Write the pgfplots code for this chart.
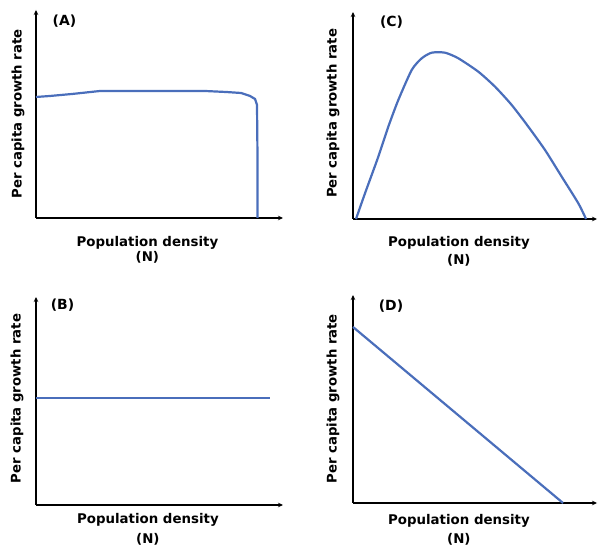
\documentclass[border=0pt]{standalone}
\usepackage{pgfplots}
\pgfplotsset{compat=1.18}
\usepackage{fontspec}
\setmainfont{DejaVu Sans}
\usetikzlibrary{arrows.meta}
\definecolor{curve}{RGB}{74,110,187}
\begin{document}
\begin{tikzpicture}[x=1bp,y=1bp]
\path[use as bounding box] (0,0) rectangle (598,547);
\pgfplotsset{
  panel/.style={
    scale only axis, anchor=south west,
    axis x line=bottom, axis y line=left,
    axis line style={line width=1.4bp, -{Stealth[length=5bp,width=4.5bp]}},
    xtick=\empty, ytick=\empty,
    xmin=0, ymin=0, clip=false,
    xlabel={Population density\\(N)},
    ylabel={Per capita growth rate},
    xlabel style={align=center, anchor=north, inner sep=0pt},
    ylabel style={anchor=center, inner sep=0pt, font=\bfseries\fontsize{13.3}{15}\selectfont},
  },
  crv/.style={color=curve, line width=2.2bp, no marks},
}
% Panel A
\begin{axis}[panel, at={(36,329)}, width=247bp, height=208bp, xmax=247, ymax=208,
  xlabel style={at={(axis description cs:0.451,0)}, yshift=-18bp, font=\bfseries\fontsize{13.4}{15}\selectfont},
  ylabel style={at={(axis description cs:0,0.50)}, yshift=18bp}]
\addplot[crv] coordinates {(0,121) (14,122) (36,124) (64,127) (169,127) (190,126) (205,125) (214,122) (219,119) (221,113) (221.5,60) (221.5,0)};
\node[font=\bfseries\fontsize{14}{15}\selectfont] at (axis cs:28.5,196.5) {(A)};
\end{axis}
% Panel B
\begin{axis}[panel, at={(36,42)}, width=247bp, height=208bp, xmax=247, ymax=208,
  xlabel style={at={(axis description cs:0.453,0)}, yshift=-8bp, font=\bfseries\fontsize{13.4}{20}\selectfont},
  ylabel style={at={(axis description cs:0,0.512)}, yshift=19bp}]
\addplot[crv] coordinates {(0,107) (234,107)};
\node[font=\bfseries\fontsize{14}{15}\selectfont] at (axis cs:26.5,200) {(B)};
\end{axis}
% Panel C
\begin{axis}[panel, at={(353,328)}, width=244bp, height=207bp, xmax=244, ymax=207,
  xlabel style={at={(axis description cs:0.434,0)}, yshift=-17bp, font=\bfseries\fontsize{13.4}{18}\selectfont},
  ylabel style={at={(axis description cs:0,0.51)}, yshift=20bp}]
\addplot[crv, smooth, tension=0.4] coordinates {(3,0) (12,25.7) (25.3,62.3) (35.3,92.3) (45.3,119) (58.7,149) (68.7,160.7) (78.7,166.3) (92,166.3) (105.3,160.7) (125.3,147.3) (142,132.3) (158.7,114) (175.3,92.3) (192,69) (208.7,42.3) (225.3,15.7) (233,0)};
\node[font=\bfseries\fontsize{14}{15}\selectfont] at (axis cs:38.5,196.5) {(C)};
\end{axis}
% Panel D
\begin{axis}[panel, at={(353,44)}, width=244bp, height=208bp, xmax=244, ymax=208,
  xlabel style={at={(axis description cs:0.434,0)}, yshift=-11bp, font=\bfseries\fontsize{13.4}{19}\selectfont},
  ylabel style={at={(axis description cs:0,0.502)}, yshift=20bp}]
\addplot[crv] coordinates {(0,176) (210,0)};
\node[font=\bfseries\fontsize{14}{15}\selectfont] at (axis cs:38,197) {(D)};
\end{axis}
\end{tikzpicture}
\end{document}
